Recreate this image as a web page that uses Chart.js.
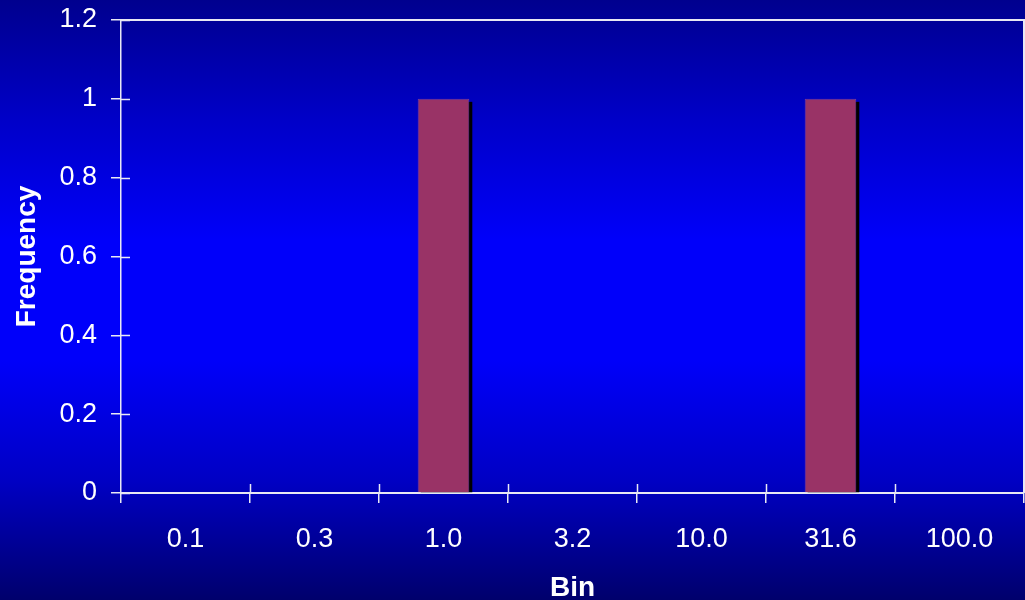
<!DOCTYPE html>
<html>
<head>
<meta charset="utf-8">
<title>Frequency by Bin</title>
<script src="https://cdn.jsdelivr.net/npm/chart.js@4/dist/chart.umd.min.js"></script>
<style>
  html, body { margin: 0; padding: 0; background: #000080; }
  #wrap { position: relative; width: 1025px; height: 600px; }
</style>
</head>
<body>
<div id="wrap"><canvas id="chart" width="1025" height="600"></canvas></div>
<script>
// Histogram data
const bins = ['0.1', '0.3', '1.0', '3.2', '10.0', '31.6', '100.0'];
const frequency = [0, 0, 1, 0, 0, 1, 0];
const yTicks = [0, 0.2, 0.4, 0.6, 0.8, 1, 1.2];

const FONT = '"Liberation Sans", Arial, sans-serif';
const LINE = '#e8e8f4';

// Vertical blue gradient behind everything
const backdrop = {
  id: 'backdrop',
  beforeDraw(chart) {
    const { ctx, width, height } = chart;
    const g = ctx.createLinearGradient(0, 0, 0, height);
    g.addColorStop(0, '#00008e');
    g.addColorStop(0.2, '#0000c8');
    g.addColorStop(0.4, '#0000fa');
    g.addColorStop(0.6, '#0000fa');
    g.addColorStop(0.8, '#0000c4');
    g.addColorStop(1, '#00006c');
    ctx.save();
    ctx.fillStyle = g;
    ctx.fillRect(0, 0, width, height);
    ctx.restore();
  }
};

// Hard black drop shadow offset down-right of each bar
const barShadow = {
  id: 'barShadow',
  beforeDatasetsDraw(chart) {
    const ctx = chart.ctx;
    ctx.save();
    ctx.fillStyle = '#000000';
    chart.getDatasetMeta(0).data.forEach(bar => {
      const p = bar.getProps(['x', 'y', 'base', 'width'], true);
      if (p.base - p.y < 1) return;
      ctx.fillRect(p.x - p.width / 2 + 3, p.y + 3, p.width, p.base - p.y - 3);
    });
    ctx.restore();
  }
};

// Plot frame on top/right plus tick marks crossing into the plot
const frame = {
  id: 'frame',
  afterDatasetsDraw(chart) {
    const { ctx, chartArea: a, scales } = chart;
    ctx.save();
    ctx.strokeStyle = LINE;
    ctx.lineWidth = 2;
    ctx.beginPath();
    ctx.moveTo(a.left, a.top);
    ctx.lineTo(a.right, a.top);
    ctx.lineTo(a.right, a.bottom);
    ctx.stroke();
    ctx.lineWidth = 1.5;
    ctx.beginPath();
    scales.y.ticks.forEach(t => {
      const y = Math.round(scales.y.getPixelForValue(t.value)) + 0.5;
      ctx.moveTo(a.left, y);
      ctx.lineTo(a.left + 9, y);
    });
    const step = scales.x.getPixelForTick(1) - scales.x.getPixelForTick(0);
    for (let i = 1; i < bins.length; i++) {
      const x = Math.round(scales.x.getPixelForTick(i) - step / 2) + 0.5;
      ctx.moveTo(x, a.bottom);
      ctx.lineTo(x, a.bottom - 9);
    }
    ctx.stroke();
    ctx.restore();
  }
};

new Chart(document.getElementById('chart'), {
  type: 'bar',
  data: {
    labels: bins,
    datasets: [{
      label: 'Frequency',
      data: frequency,
      backgroundColor: '#993366',
      borderColor: '#7a3c9c',
      borderWidth: 1,
      categoryPercentage: 1,
      barPercentage: 0.4
    }]
  },
  options: {
    responsive: false,
    animation: false,
    devicePixelRatio: 1,
    layout: { padding: { top: 20, right: 1, left: 0, bottom: 0 } },
    plugins: {
      legend: { display: false },
      tooltip: { enabled: false }
    },
    scales: {
      x: {
        offset: true,
        grid: {
          offset: true,
          drawOnChartArea: false,
          drawTicks: true,
          tickLength: 10,
          color: LINE,
          lineWidth: 1.5
        },
        border: { display: true, color: LINE, width: 2 },
        ticks: {
          color: '#ffffff',
          font: { family: FONT, size: 27 },
          padding: 20,
          maxRotation: 0
        },
        title: {
          display: true,
          text: 'Bin',
          color: '#ffffff',
          font: { family: FONT, size: 28, weight: 'bold', lineHeight: 1 },
          padding: { top: 0, bottom: -2 }
        },
        afterFit(scale) {
          scale.height = 107;
          scale.paddingLeft = 0;
          scale.paddingRight = 0;
        }
      },
      y: {
        min: 0,
        max: 1.2,
        afterBuildTicks(scale) { scale.ticks = yTicks.map(v => ({ value: v })); },
        grid: {
          drawOnChartArea: false,
          drawTicks: true,
          tickLength: 10,
          color: LINE,
          lineWidth: 1.5
        },
        border: { display: true, color: LINE, width: 1.5 },
        ticks: {
          color: '#ffffff',
          font: { family: FONT, size: 27 },
          padding: 14,
          callback: v => String(Math.round(v * 10) / 10)
        },
        title: {
          display: true,
          text: 'Frequency',
          color: '#ffffff',
          font: { family: FONT, size: 28, weight: 'bold', lineHeight: 1 },
          padding: { top: 13, bottom: 0 }
        },
        afterFit(scale) {
          scale.width = 121;
          scale.paddingTop = 0;
          scale.paddingBottom = 0;
        }
      }
    }
  },
  plugins: [backdrop, barShadow, frame]
});
</script>
</body>
</html>
